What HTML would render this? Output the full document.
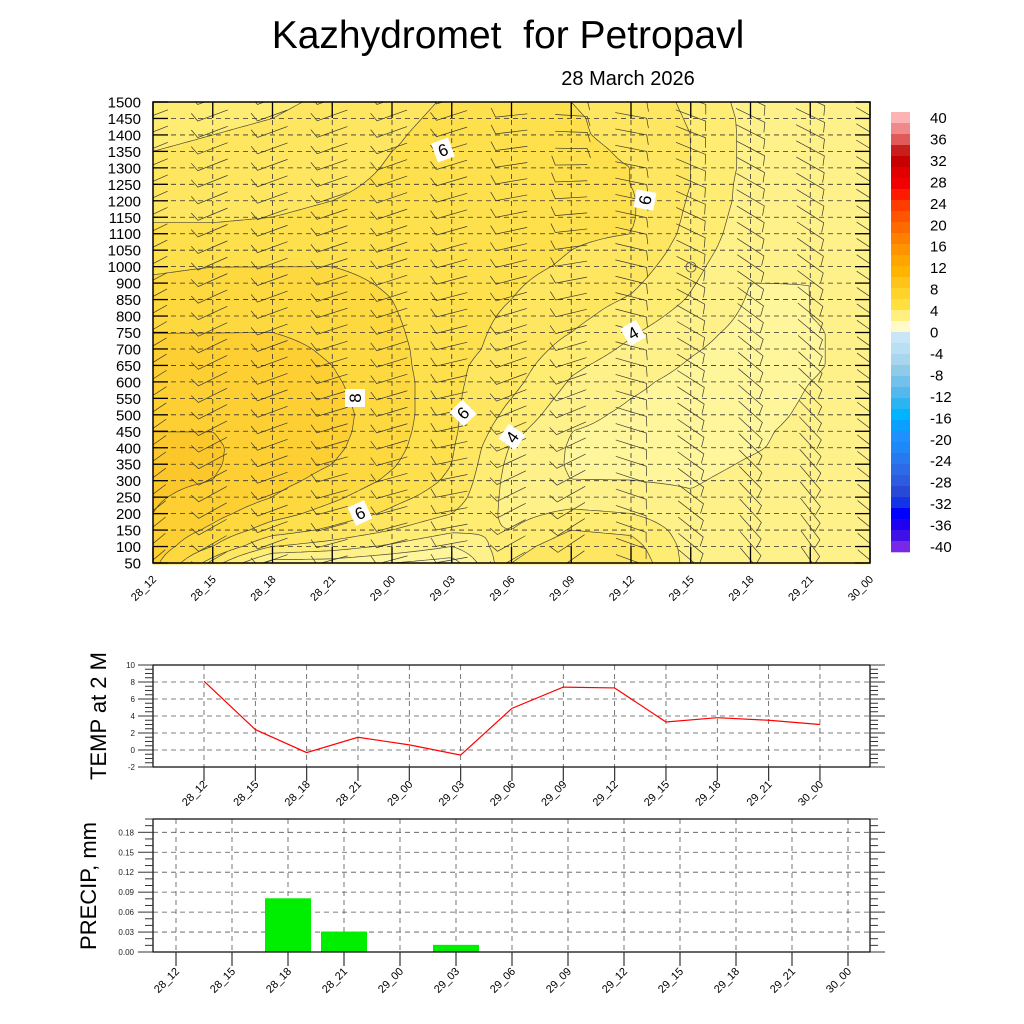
<!DOCTYPE html>
<html><head><meta charset="utf-8"><title>Kazhydromet for Petropavl</title>
<style>
html,body{margin:0;padding:0;background:#fff;}
svg{display:block;font-family:"Liberation Sans",Arial,sans-serif;}
</style></head>
<body>
<svg id="chart" width="1024" height="1024" viewBox="0 0 1024 1024" xmlns="http://www.w3.org/2000/svg">
<defs><clipPath id="plotclip"><rect x="153" y="102" width="717" height="461"/></clipPath></defs>
<rect width="1024" height="1024" fill="#fff"/>
<text x="508" y="48" font-size="39" text-anchor="middle" style="white-space:pre">Kazhydromet  for Petropavl</text>
<text x="628" y="85" font-size="20" text-anchor="middle">28 March 2026</text>
<g id="main"></g>
<g id="cbar"></g>
<g id="temp"></g>
<g id="prec"></g>
</svg>
<script>
const times = ["28_12","28_15","28_18","28_21","29_00","29_03","29_06","29_09","29_12","29_15","29_18","29_21","30_00"];
const levels = [50,100,150,200,250,300,350,400,450,500,550,600,650,700,750,800,850,900,1000,1050,1100,1150,1200,1250,1300,1350,1400,1450,1500];
// temperature cross-section, one array per time, bottom (50) -> top (1500)
const tCol0 = [8.3,8.6,8.8,9.0,9.1,9.2,9.2,9.1,9.0,8.8,8.6,8.4,8.2,8.1,8.0,7.7,7.4,7.1,6.9,6.6,6.2,5.9,5.7,5.5,5.2,5.0,4.9,4.8,4.7];
const tCol1 = [5.5,7.0,7.8,8.3,8.7,9.0,9.1,9.1,9.0,8.8,8.6,8.4,8.2,8.1,8.0,7.8,7.5,7.2,7.0,6.6,6.2,5.9,5.7,5.5,5.3,5.1,5.0,4.9,4.8];
const tCol2 = [2.5,5.0,6.5,7.4,8.0,8.3,8.5,8.6,8.6,8.6,8.5,8.4,8.3,8.2,8.0,7.8,7.5,7.2,7.0,6.7,6.3,6.0,5.8,5.6,5.4,5.2,5.1,5.0,4.9];
const tCol3 = [2.5,4.5,5.8,6.6,7.2,7.7,8.0,8.2,8.3,8.3,8.2,8.1,8.0,7.9,7.8,7.6,7.4,7.2,7.0,6.8,6.5,6.2,6.0,5.8,5.6,5.5,5.4,5.2,5.1];
const tCol4 = [2.0,3.8,5.0,5.8,6.3,6.8,7.1,7.3,7.4,7.5,7.5,7.5,7.4,7.3,7.2,7.1,7.0,6.9,6.8,6.7,6.6,6.4,6.3,6.2,6.1,6.0,5.9,5.8,5.7];
const tCol5 = [1.5,3.0,4.2,5.0,5.5,5.8,6.0,6.1,6.2,6.2,6.2,6.2,6.2,6.3,6.3,6.3,6.3,6.3,6.4,6.4,6.4,6.4,6.4,6.4,6.4,6.3,6.3,6.2,6.1];
const tCol6 = [5.0,4.6,4.0,3.7,3.6,3.6,3.7,3.9,4.3,4.7,5.0,5.3,5.5,5.7,5.8,5.9,6.0,6.1,6.2,6.3,6.4,6.5,6.5,6.5,6.5,6.4,6.4,6.3,6.2];
const tCol7 = [6.0,5.6,5.0,4.2,3.5,3.0,2.9,2.9,3.0,3.3,3.6,3.9,4.2,4.6,5.0,5.3,5.5,5.7,5.9,6.0,6.1,6.2,6.2,6.2,6.2,6.2,6.1,6.1,6.0];
const tCol8 = [5.8,5.4,4.8,4.0,3.4,3.0,2.8,2.7,2.7,2.8,3.0,3.2,3.5,3.8,4.1,4.5,4.9,5.2,5.5,5.8,6.0,6.1,6.1,6.0,6.0,5.9,5.8,5.7,5.6];
const tCol9 = [3.6,3.6,3.5,3.3,3.1,2.9,2.7,2.6,2.5,2.5,2.6,2.7,2.9,3.1,3.3,3.6,3.9,4.1,4.3,4.5,4.7,4.8,4.9,5.0,5.0,5.0,5.0,4.9,4.8];
const tCol10 = [3.7,3.7,3.6,3.5,3.4,3.3,3.1,2.9,2.8,2.6,2.5,2.5,2.5,2.6,2.7,2.8,2.9,3.0,3.1,3.3,3.4,3.5,3.6,3.6,3.7,3.7,3.7,3.7,3.6];
const tCol11 = [3.5,3.5,3.5,3.5,3.4,3.4,3.4,3.3,3.3,3.2,3.1,3.0,2.9,2.9,2.9,3.0,3.0,3.0,3.1,3.1,3.2,3.2,3.3,3.3,3.3,3.3,3.3,3.3,3.2];
const tCol12 = [3.2,3.2,3.3,3.3,3.4,3.4,3.4,3.4,3.4,3.4,3.4,3.3,3.3,3.3,3.3,3.3,3.3,3.4,3.4,3.4,3.4,3.4,3.4,3.4,3.4,3.4,3.4,3.4,3.4];
const tempField = [tCol0,tCol1,tCol2,tCol3,tCol4,tCol5,tCol6,tCol7,tCol8,tCol9,tCol10,tCol11,tCol12];
// wind barb staff angle (deg) at top and bottom of each column
const windTopDir = [-20,-20,-20,-20,-20,-18,-5,5,10,20,25,25,30];
const windBotDir = [-40,-30,-20,-15,-15,-10,-30,-35,20,40,50,55,40];
// surface series
const t2m = [8.1,2.4,-0.3,1.5,0.6,-0.6,4.9,7.4,7.3,3.3,3.8,3.5,3.0];
const tempTicks = [-2,0,2,4,6,8,10];
const precip = [0,0,0.08,0.03,0,0.01,0,0,0,0,0,0,0];
const precTicks = ["0.00","0.03","0.06","0.09","0.12","0.15","0.18"];
const cbarLabels = [40,36,32,28,24,20,16,12,8,4,0,-4,-8,-12,-16,-20,-24,-28,-32,-36,-40];

const NS="http://www.w3.org/2000/svg";
function mk(tag,attrs,parent){const e=document.createElementNS(NS,tag);for(const k in attrs)e.setAttribute(k,attrs[k]);if(parent)parent.appendChild(e);return e;}

// ---------- main cross-section ----------
const main=document.getElementById('main');
const MX0=153,MX1=870,MY0=102,MY1=563;
const colW=(MX1-MX0)/(times.length-1), rowH=(MY1-MY0)/(levels.length-1);
const xM=c=>MX0+c*colW, yM=j=>MY1-j*rowH;
function tAt(x,y){
  let c=(x-MX0)/colW, j=(MY1-y)/rowH;
  c=Math.max(0,Math.min(times.length-1.0001,c)); j=Math.max(0,Math.min(levels.length-1.0001,j));
  const c0=Math.floor(c), j0=Math.floor(j), fc=c-c0, fj=j-j0;
  const a=tempField[c0][j0], b=tempField[c0+1][j0], d=tempField[c0][j0+1], e=tempField[c0+1][j0+1];
  return (a*(1-fc)+b*fc)*(1-fj)+(d*(1-fc)+e*fc)*fj;
}
const bandCols=["#fff9b4","#fff9b0","#fff69c","#fff18a","#ffec72","#fee660","#fedf4c","#fdd83e","#fdcf33","#fcc72b","#fbbd22"];
function colFor(t){let k=Math.floor(t);k=Math.max(0,Math.min(bandCols.length-1,k));return bandCols[k];}
const fillG=mk('g',{},main);


const S=2;
for(let y=MY0;y<MY1;y+=S){
  let runStart=MX0, runCol=colFor(tAt(MX0+1,y+1));
  for(let x=MX0+S;x<MX1;x+=S){
    const cc=colFor(tAt(x+1,y+1));
    if(cc!==runCol){
      mk('rect',{x:runStart,y:y,width:x-runStart+0.5,height:S+0.5,fill:runCol},fillG);
      runStart=x;runCol=cc;
    }
  }
  mk('rect',{x:runStart,y:y,width:MX1-runStart,height:S+0.5,fill:runCol},fillG);
}
// contours via marching squares
const G=4, nx=Math.ceil((MX1-MX0)/G), ny=Math.ceil((MY1-MY0)/G);
const grid=[];
for(let i=0;i<=nx;i++){grid[i]=[];for(let k=0;k<=ny;k++){grid[i][k]=tAt(Math.min(MX1,MX0+i*G),Math.min(MY1,MY0+k*G));}}
const contG=mk('g',{},main);


for(let L=1;L<=9;L++){
  let d="";
  for(let i=0;i<nx;i++)for(let k=0;k<ny;k++){
    const x0=MX0+i*G,y0=MY0+k*G,x1=Math.min(MX1,x0+G),y1=Math.min(MY1,y0+G);
    const v=[grid[i][k],grid[i+1][k],grid[i+1][k+1],grid[i][k+1]];
    const P=[[x0,y0],[x1,y0],[x1,y1],[x0,y1]];
    const pts=[];
    for(let e=0;e<4;e++){const a=v[e],b=v[(e+1)%4];
      if((a<L)!==(b<L)){const f=(L-a)/(b-a);const p=P[e],q=P[(e+1)%4];pts.push([p[0]+(q[0]-p[0])*f,p[1]+(q[1]-p[1])*f]);}}
    if(pts.length>=2){d+="M"+pts[0][0].toFixed(1)+" "+pts[0][1].toFixed(1)+"L"+pts[1][0].toFixed(1)+" "+pts[1][1].toFixed(1);}
    if(pts.length===4){d+="M"+pts[2][0].toFixed(1)+" "+pts[2][1].toFixed(1)+"L"+pts[3][0].toFixed(1)+" "+pts[3][1].toFixed(1);}
  }
  const p=mk('path',{d:d,fill:'none',stroke:'#4a4a3a','stroke-width':0.7},contG);
  
  
}
// grid lines
const gridG=mk('g',{stroke:'#333','stroke-width':0.8,'stroke-dasharray':'5,4',fill:'none'},main);


for(let j=1;j<levels.length-1;j++)mk('line',{x1:MX0,x2:MX1,y1:yM(j),y2:yM(j)},gridG);
for(let c=1;c<times.length-1;c++)mk('line',{x1:xM(c),x2:xM(c),y1:MY0,y2:MY1},gridG);
// wind barbs
const barbG=mk('g',{stroke:'#3a3a30','stroke-width':0.7,fill:'none','clip-path':'url(#plotclip)'},main);


for(let c=0;c<times.length;c++)for(let j=0;j<levels.length;j++){
  const f=j/(levels.length-1);
  const th=(windBotDir[c]*(1-f)+windTopDir[c]*f)*Math.PI/180;
  const L=16, cx=xM(c), cy=yM(j)-3;
  const ax=cx-L*Math.cos(th), ay=cy-L*Math.sin(th), bx=cx+L*Math.cos(th), by=cy+L*Math.sin(th);
  let fx,fy;
  if(th<=0){const fa=th-110*Math.PI/180;fx=ax+10*Math.cos(fa);fy=ay+10*Math.sin(fa);}
  else{const fa=th+70*Math.PI/180;fx=bx+10*Math.cos(fa);fy=by+10*Math.sin(fa);}
  const p=mk('path',{d:(th<=0?`M${fx} ${fy}L${ax} ${ay}L${bx} ${by}`:`M${ax} ${ay}L${bx} ${by}L${fx} ${fy}`)},barbG);
  
  
}
// contour labels
const labs=[[443,150,"6",-20],[645,200,"6",-80],[633,333,"4",-30],[512,437,"4",-55],[355,398,"8",-90],[463,413,"6",-45],[360,513,"6",-25]];
labs.forEach(l=>{
  const g=mk('g',{transform:`translate(${l[0]},${l[1]}) rotate(${l[3]})`},main);
  
  
  mk('rect',{x:-9,y:-10,width:18,height:20,fill:'#fff'},g);
  const t=mk('text',{x:0,y:6,'font-size':17,'text-anchor':'middle'},g);t.textContent=l[2];
});
mk('circle',{cx:691,cy:267,r:5,fill:'none',stroke:'#555','stroke-width':0.8},main);
// frame & ticks
mk('rect',{x:MX0,y:MY0,width:MX1-MX0,height:MY1-MY0,fill:'none',stroke:'#000','stroke-width':1.5},main);
const tickG=mk('g',{stroke:'#000','stroke-width':1.3},main);
levels.forEach((lv,j)=>{
  mk('line',{x1:MX0,x2:MX0+15,y1:yM(j),y2:yM(j)},tickG);
  mk('line',{x1:MX1-15,x2:MX1,y1:yM(j),y2:yM(j)},tickG);
  const t=mk('text',{x:141,y:yM(j)+5.5,'font-size':15,'text-anchor':'end'},main);t.textContent=lv;
  
  
});
times.forEach((tm,c)=>{
  mk('line',{x1:xM(c),x2:xM(c),y1:MY1-16,y2:MY1},tickG);
  mk('line',{x1:xM(c),x2:xM(c),y1:MY0,y2:MY0+16},tickG);
  const t=mk('text',{x:xM(c)+4,y:580,'font-size':11,'text-anchor':'end',transform:`rotate(-45 ${xM(c)+4} 580)`},main);t.textContent=tm;
  
  
});

// ---------- color bar ----------
const cbar=document.getElementById('cbar');
const cbCols=["#fbb3b3","#f08a8a","#e05a5a","#c81e1e","#c80000","#e00000","#f00000","#ff1a00","#ff3c00","#ff5500","#ff6a00","#ff7f00","#ff9400","#ffa500","#ffb400","#ffc31a","#ffd42a","#ffe040","#fff080","#fffac8","#c8e6f5","#b8dff2","#a8d6ee","#8fcbe8","#72c1ea","#52b8ee","#2ab4f2","#00b4ff","#0aa0ff","#1e90ff","#1e88f8","#2878f0","#2d6ae8","#2e5ce0","#2848d8","#1432e6","#0000ff","#2000f0","#4010e8","#7a28e8"];
cbCols.forEach((c,i)=>{const r=mk('rect',{x:891,y:112+i*11,width:19,height:11.3,fill:c},cbar);
  
  });
cbarLabels.forEach((v,i)=>{const t=mk('text',{x:930,y:123+i*21.45,'font-size':15},cbar);t.textContent=v;
  
  });

// ---------- temperature panel ----------
const tp=document.getElementById('temp');
const TX0=153,TX1=870,TY0=665,TY1=767;
const xT=i=>204+i*51.33, yT=v=>TY1-(v+2)*(TY1-TY0)/12;
const tg=mk('g',{stroke:'#555','stroke-width':0.8,'stroke-dasharray':'5,4'},tp);
tempTicks.slice(1,-1).forEach(v=>mk('line',{x1:TX0,x2:TX1,y1:yT(v),y2:yT(v)},tg));
times.forEach((tm,i)=>mk('line',{x1:xT(i),x2:xT(i),y1:TY0,y2:TY1},tg));
mk('rect',{x:TX0,y:TY0,width:TX1-TX0,height:TY1-TY0,fill:'none',stroke:'#000','stroke-width':1.2},tp);
const ttk=mk('g',{stroke:'#333','stroke-width':1},tp);
for(let v=-2;v<=10.001;v+=0.5){const maj=Math.abs(v-Math.round(v/2)*2)<0.01;
  mk('line',{x1:TX0-(maj?15:8),x2:TX0,y1:yT(v),y2:yT(v)},ttk);
  mk('line',{x1:TX1,x2:TX1+(maj?15:8),y1:yT(v),y2:yT(v)},ttk);}
tempTicks.forEach(v=>{const t=mk('text',{x:135,y:yT(v)+3,'font-size':8,'text-anchor':'end',fill:'#222'},tp);t.textContent=v;
  
  });
times.forEach((tm,i)=>{mk('line',{x1:xT(i),x2:xT(i),y1:TY1,y2:TY1+14,stroke:'#333','stroke-width':1.2},tp);
  const t=mk('text',{x:xT(i)+4,y:TY1+18,'font-size':11,'text-anchor':'end',transform:`rotate(-45 ${xT(i)+4} ${TY1+18})`},tp);t.textContent=tm;
  
  });
const tline=mk('polyline',{points:t2m.map((v,i)=>xT(i)+','+yT(v)).join(' '),fill:'none',stroke:'#f00','stroke-width':1.2},tp);


const tyl=mk('text',{x:0,y:0,'font-size':22,'text-anchor':'middle',transform:'translate(106 716) rotate(-90)'},tp);tyl.textContent="TEMP at 2 M";



// ---------- precipitation panel ----------
const pp=document.getElementById('prec');
const PX0=153,PX1=870,PY0=819,PY1=952;
const xP=i=>176+i*56, yP=v=>PY1-v*(PY1-PY0)/0.2;
const pg=mk('g',{stroke:'#555','stroke-width':0.8,'stroke-dasharray':'5,4'},pp);
precTicks.slice(1).forEach(s=>mk('line',{x1:PX0,x2:PX1,y1:yP(+s),y2:yP(+s)},pg));
times.forEach((tm,i)=>mk('line',{x1:xP(i),x2:xP(i),y1:PY0,y2:PY1},pg));
precip.forEach((v,i)=>{const r=mk('rect',{x:xP(i)-23,y:yP(v)-0.5,width:46,height:PY1-yP(v)+0.5,fill:'#00ee00'},pp);
  
  });
mk('rect',{x:PX0,y:PY0,width:PX1-PX0,height:PY1-PY0,fill:'none',stroke:'#000','stroke-width':1.2},pp);
const ptk=mk('g',{stroke:'#333','stroke-width':1},pp);
for(let k=0;k<=20;k++){const v=k*0.01, maj=k%3===0;
  mk('line',{x1:PX0-(maj?15:8),x2:PX0,y1:yP(v),y2:yP(v)},ptk);
  mk('line',{x1:PX1,x2:PX1+(maj?15:8),y1:yP(v),y2:yP(v)},ptk);}
precTicks.forEach(s=>{const t=mk('text',{x:134,y:yP(+s)+3,'font-size':8,'text-anchor':'end',fill:'#222'},pp);t.textContent=s;
  
  });
times.forEach((tm,i)=>{mk('line',{x1:xP(i),x2:xP(i),y1:PY1,y2:PY1+14,stroke:'#333','stroke-width':1.2},pp);
  const t=mk('text',{x:xP(i)+4,y:PY1+20,'font-size':11,'text-anchor':'end',transform:`rotate(-45 ${xP(i)+4} ${PY1+20})`},pp);t.textContent=tm;
  
  });
const pyl=mk('text',{x:0,y:0,'font-size':22,'text-anchor':'middle',transform:'translate(96 886) rotate(-90)'},pp);pyl.textContent="PRECIP, mm";


</script>
</body></html>
